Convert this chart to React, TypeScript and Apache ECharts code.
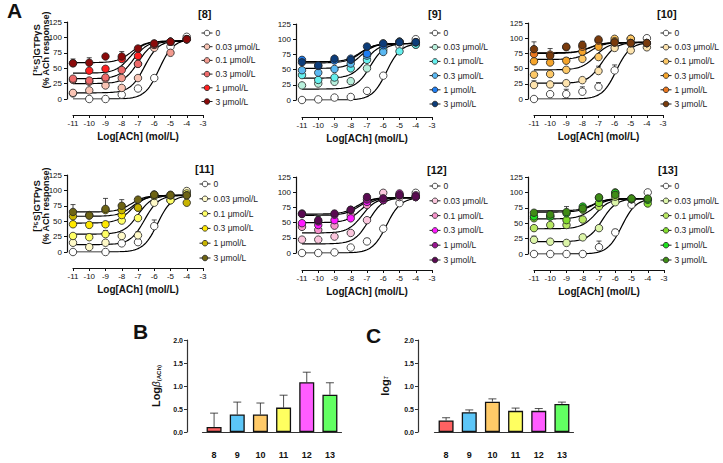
import React, { useEffect, useRef } from "react";
import * as echarts from "echarts";

// ---------- data ----------
const LOG_ACH = [-11, -10, -9, -8, -7, -6, -5, -4];
const CONC_LABELS = ["0", "0.03 μmol/L", "0.1 μmol/L", "0.3 μmol/L", "1 μmol/L", "3 μmol/L"];
const COMPOUNDS = ["8", "9", "10", "11", "12", "13"];

// % ACh response, one row per antagonist concentration
const RESP_8 = [
  [9, 0, 0, 7, 17, 34, 85, 101],
  [10, 14, 22, 18, 34, 83, 93, 97],
  [31, 28, 33, 34, 57, 88, 75, 97],
  [33, 30, 35, 47, 57, 88, 93, 97],
  [58, 46, 49, 65, 70, 90, 93, 97],
  [58, 59, 69, 69, 82, 90, 93, 97],
];
const RESP_9 = [
  [0, 1, 4, 5, 15, 40, 89, 100],
  [24, 27, 30, 31, 52, 93, 96, 91],
  [41, 33, 37, 52, 66, 83, 80, 91],
  [49, 45, 51, 60, 73, 79, 96, 95],
  [66, 56, 65, 68, 76, 90, 95, 95],
  [62, 57, 68, 66, 88, 93, 95, 95],
];
const RESP_10 = [
  [0, 8, 8, 12, 20, 47, 99, 100],
  [23, 24, 26, 31, 46, 84, 80, 85],
  [40, 41, 48, 66, 69, 99, 99, 92],
  [62, 60, 63, 78, 86, 95, 92, 92],
  [74, 73, 85, 86, 96, 93, 92, 92],
  [82, 71, 86, 89, 98, 93, 92, 92],
];
const RESP_11 = [
  [0, -4, 0, 14, 16, 42, 90, 97],
  [15, 8, 15, 26, 27, 80, 84, 99],
  [26, 24, 29, 51, 55, 91, 84, 95],
  [45, 44, 45, 60, 72, 93, 92, 92],
  [58, 60, 68, 68, 72, 93, 93, 80],
  [65, 59, 70, 75, 85, 93, 92, 92],
];
const RESP_12 = [
  [0, 0, 1, 9, 19, 40, 82, 99],
  [22, 22, 27, 33, 54, 99, 92, 92],
  [43, 38, 45, 62, 79, 87, 95, 92],
  [49, 46, 54, 57, 84, 87, 95, 92],
  [65, 52, 63, 71, 88, 87, 98, 95],
  [64, 54, 65, 71, 92, 90, 95, 93],
];
const RESP_13 = [
  [0, 0, 0, 0, 11, 35, 80, 100],
  [23, 20, 18, 27, 42, 84, 89, 88],
  [42, 47, 47, 56, 77, 93, 89, 88],
  [58, 61, 55, 72, 83, 100, 89, 82],
  [61, 61, 66, 77, 91, 99, 90, 88],
  [67, 64, 68, 74, 92, 96, 90, 90],
];

// upper SEM, per point (0 = hidden inside the symbol)
const ERR_8 = [
  [0, 0, 0, 0, 0, 0, 0, 0],
  [0, 0, 0, 0, 0, 0, 0, 0],
  [5, 5, 0, 0, 0, 0, 0, 0],
  [0, 0, 5, 0, 0, 0, 0, 0],
  [0, 0, 0, 0, 0, 0, 0, 0],
  [7, 8, 0, 8, 0, 0, 0, 0],
];
const ERR_9 = [
  [0, 0, 0, 0, 0, 0, 0, 0],
  [3, 0, 0, 0, 0, 0, 0, 0],
  [0, 4, 0, 0, 0, 0, 0, 0],
  [0, 0, 0, 0, 0, 0, 0, 0],
  [3, 0, 0, 0, 0, 0, 0, 0],
  [0, 0, 0, 0, 0, 0, 0, 0],
];
const ERR_10 = [
  [0, 0, 8, 8, 7, 9, 0, 0],
  [7, 0, 0, 0, 8, 0, 0, 0],
  [0, 0, 0, 0, 0, 0, 0, 0],
  [0, 0, 5, 0, 0, 0, 0, 0],
  [0, 0, 0, 0, 0, 0, 0, 0],
  [12, 12, 0, 6, 0, 0, 0, 0],
];
const ERR_11 = [
  [0, 0, 0, 14, 5, 10, 0, 0],
  [4, 0, 0, 0, 6, 0, 0, 0],
  [0, 0, 6, 0, 0, 0, 0, 0],
  [0, 0, 0, 0, 0, 0, 0, 0],
  [0, 0, 0, 0, 0, 0, 0, 0],
  [12, 0, 17, 10, 0, 0, 0, 0],
];
const ERR_12 = [
  [0, 4, 0, 0, 5, 0, 0, 0],
  [0, 0, 0, 0, 0, 0, 0, 0],
  [0, 0, 0, 0, 0, 0, 0, 0],
  [0, 0, 0, 0, 0, 0, 0, 0],
  [0, 8, 0, 0, 0, 0, 0, 0],
  [0, 0, 4, 0, 5, 0, 0, 0],
];
const ERR_13 = [
  [0, 0, 0, 0, 10, 5, 0, 0],
  [6, 0, 0, 0, 0, 0, 0, 0],
  [0, 0, 5, 0, 0, 0, 0, 0],
  [0, 0, 0, 0, 0, 0, 0, 0],
  [0, 0, 0, 0, 0, 0, 0, 0],
  [0, 6, 9, 0, 0, 0, 0, 0],
];

// fitted curve parameters: [bottom, top, logEC50]
const FIT_8 = [[0, 97, -5.7], [10, 95, -6.6], [25, 94, -7.0], [33, 94, -7.3], [42, 94, -7.5], [59, 94, -7.4]];
const FIT_9 = [[0, 93, -5.8], [18, 93, -6.8], [36, 93, -7.1], [52, 93, -7.4], [61, 93, -7.4], [63, 93, -7.4]];
const FIT_10 = [[0, 93, -5.9], [26, 93, -6.8], [48, 93, -7.2], [65, 93, -7.5], [75, 93, -7.6], [76, 93, -7.5]];
const FIT_11 = [[0, 92, -5.8], [12, 92, -6.6], [29, 92, -7.0], [47, 92, -7.4], [58, 92, -7.3], [65, 92, -7.4]];
const FIT_12 = [[0, 91, -5.8], [15, 91, -6.9], [33, 91, -7.3], [50, 91, -7.4], [62, 91, -7.5], [64, 91, -7.6]];
const FIT_13 = [[0, 90, -5.6], [20, 90, -6.8], [41, 90, -7.2], [57, 90, -7.4], [68, 90, -7.4], [70, 90, -7.4]];

const COLORS_8 = ["#ffffff", "#f9c4b4", "#f29a8e", "#ee6a6a", "#ff2020", "#8b0a0a"];
const COLORS_9 = ["#ffffff", "#b8f0dc", "#66f0ee", "#5ab8f2", "#1f7ef2", "#0d3d7a"];
const COLORS_10 = ["#ffffff", "#fde3ad", "#fdc866", "#f5a42a", "#e8761e", "#7a3b0c"];
const COLORS_11 = ["#ffffff", "#fffac8", "#ffff66", "#ffe800", "#c8b400", "#6e6414"];
const COLORS_12 = ["#ffffff", "#fbc6dd", "#f592ca", "#ff19ff", "#98168f", "#5a0a52"];
const COLORS_13 = ["#ffffff", "#dcf5a8", "#b8e862", "#82dc2e", "#1ee01e", "#3f8c16"];

const LOG_BETA = [0.11, 0.38, 0.38, 0.53, 1.08, 0.81];
const LOG_BETA_ERR = [0.3, 0.27, 0.25, 0.27, 0.22, 0.26];
const LOG_TAU = [0.25, 0.43, 0.66, 0.46, 0.46, 0.61];
const LOG_TAU_ERR = [0.06, 0.05, 0.06, 0.06, 0.05, 0.04];
const BAR_COLORS = ["#ff6262", "#5cc6f8", "#ffca68", "#ffff60", "#ff5cff", "#62ff62"];

// ---------- layout ----------
const FONT = "Liberation Sans, Arial, sans-serif";
const PANELS = [
  { resp: RESP_8, err: ERR_8, fit: FIT_8, colors: COLORS_8, left: 73, top: 22, width: 130, height: 77, xOff: 16, lgLeft: 201, lgTop: 28.5, lgGap: 4.7, tX: 198, tY: 15 },
  { resp: RESP_9, err: ERR_9, fit: FIT_9, colors: COLORS_9, left: 302, top: 24, width: 130, height: 76, xOff: 17, lgLeft: 429, lgTop: 28.5, lgGap: 5.2, tX: 428, tY: 15 },
  { resp: RESP_10, err: ERR_10, fit: FIT_10, colors: COLORS_10, left: 534, top: 23, width: 129, height: 76, xOff: 16, lgLeft: 660, lgTop: 28.5, lgGap: 5.2, tX: 657, tY: 15 },
  { resp: RESP_11, err: ERR_11, fit: FIT_11, colors: COLORS_11, left: 73, top: 175, width: 130, height: 77, xOff: 16, lgLeft: 199, lgTop: 179.5, lgGap: 5.8, tX: 195, tY: 170 },
  { resp: RESP_12, err: ERR_12, fit: FIT_12, colors: COLORS_12, left: 302, top: 177, width: 130, height: 76, xOff: 17, lgLeft: 429, lgTop: 181.5, lgGap: 5.8, tX: 427, tY: 171 },
  { resp: RESP_13, err: ERR_13, fit: FIT_13, colors: COLORS_13, left: 534, top: 177, width: 130, height: 77, xOff: 16, lgLeft: 660, lgTop: 181.5, lgGap: 5.8, tX: 658, tY: 171 },
];

function hill(b: number, t: number, ec: number, x: number) {
  return b + (t - b) / (1 + Math.pow(10, ec - x));
}

function errRender(cap: number) {
  return (params: any, api: any) => {
    const x = api.value(0);
    const p1 = api.coord([x, api.value(1)]);
    const p2 = api.coord([x, api.value(2)]);
    const st = { stroke: "#222", lineWidth: 0.8 };
    return {
      type: "group",
      children: [
        { type: "line", shape: { x1: p1[0], y1: p1[1], x2: p2[0], y2: p2[1] }, style: st },
        { type: "line", shape: { x1: p2[0] - cap, y1: p2[1], x2: p2[0] + cap, y2: p2[1] }, style: st },
      ],
    };
  };
}

function buildOption() {
  const grid: any[] = [];
  const xAxis: any[] = [];
  const yAxis: any[] = [];
  const series: any[] = [];
  const legend: any[] = [];
  const graphic: any[] = [];

  PANELS.forEach((p, gi) => {
    const comp = COMPOUNDS[gi];
    grid.push({ left: p.left, top: p.top, width: p.width, height: p.height });
    xAxis.push({
      gridIndex: gi, type: "value", min: -11, max: -3, interval: 1, offset: p.xOff,
      axisLine: { onZero: false, lineStyle: { color: "#111", width: 1.2 } },
      axisTick: { length: 3, lineStyle: { color: "#111" } },
      axisLabel: { fontSize: 8, color: "#111", margin: 4, fontFamily: FONT },
      splitLine: { show: false },
      name: "Log[ACh] (mol/L)", nameLocation: "middle", nameGap: 16,
      nameTextStyle: { fontSize: 10, fontWeight: "bold", color: "#111", fontFamily: FONT },
    });
    yAxis.push({
      gridIndex: gi, type: "value", min: 0, max: 125, interval: 25, offset: 6,
      axisLine: { show: true, onZero: false, lineStyle: { color: "#111", width: 1.2 } },
      axisTick: { show: true, length: 3, lineStyle: { color: "#111" } },
      axisLabel: { fontSize: 8, color: "#111", margin: 5, fontFamily: FONT },
      splitLine: { show: false },
    });
    const names: string[] = [];
    p.resp.forEach((row, si) => {
      const name = comp + "|" + CONC_LABELS[si];
      names.push(name);
      const f = p.fit[si];
      const curve: number[][] = [];
      for (let k = 0; k <= 70; k++) {
        const x = -11 + k * 0.1;
        curve.push([x, hill(f[0], f[1], f[2], x)]);
      }
      series.push({
        type: "line", name: "fit" + name, xAxisIndex: gi, yAxisIndex: gi, data: curve,
        showSymbol: false, symbol: "none", silent: true, z: 2,
        lineStyle: { color: "#000", width: 1.2 },
      });
      const errData: number[][] = [];
      row.forEach((v, k) => {
        if (p.err[si][k] > 0) errData.push([LOG_ACH[k], v, v + p.err[si][k]]);
      });
      if (errData.length) {
        series.push({
          type: "custom", name: "err" + name, xAxisIndex: gi, yAxisIndex: gi, z: 1,
          data: errData, encode: { x: 0, y: [1, 2] }, renderItem: errRender(2.5), silent: true,
        });
      }
      series.push({
        type: "line", name, xAxisIndex: gi, yAxisIndex: gi,
        data: row.map((v, k) => [LOG_ACH[k], v]),
        symbol: "circle", symbolSize: 7.5, showAllSymbol: true, z: 3,
        lineStyle: { width: 0, opacity: 0 },
        itemStyle: { color: p.colors[si], borderColor: "#222", borderWidth: 0.8 },
      });
    });
    legend.push({
      data: names, orient: "vertical", left: p.lgLeft, top: p.lgTop, padding: 0,
      itemWidth: 11, itemHeight: 7, itemGap: p.lgGap, selectedMode: false,
      formatter: (n: string) => n.split("|")[1],
      textStyle: { fontSize: 8.5, color: "#222", fontFamily: FONT, padding: [0, 0, 0, -2] },
      lineStyle: { color: "#222", width: 1, opacity: 1, type: "solid" },
      itemStyle: { borderColor: "#222", borderWidth: 0.8 },
    });
    graphic.push({
      type: "text", left: p.tX, top: p.tY - 7,
      style: { text: "[" + comp + "]", fontSize: 11, fontWeight: "bold", fill: "#111", fontFamily: FONT },
    });
  });

  // bar panels B and C
  const barPanels = [
    { vals: LOG_BETA, errs: LOG_BETA_ERR, left: 202.5, yOff: 15.5 },
    { vals: LOG_TAU, errs: LOG_TAU_ERR, left: 434.5, yOff: 16.5 },
  ];
  barPanels.forEach((b, j) => {
    const gi = 6 + j;
    grid.push({ left: b.left, top: 340, width: 139, height: 92 });
    xAxis.push({
      gridIndex: gi, type: "category", data: COMPOUNDS, offset: 13,
      axisLine: { lineStyle: { color: "#333", width: 1.2 } },
      axisTick: { alignWithLabel: true, length: 3, lineStyle: { color: "#333" } },
      axisLabel: { fontSize: 9, fontWeight: "bold", color: "#111", margin: 5, fontFamily: FONT },
    });
    yAxis.push({
      gridIndex: gi, type: "value", min: 0, max: 2, interval: 0.5, offset: b.yOff,
      axisLine: { show: true, lineStyle: { color: "#333", width: 1.2 } },
      axisTick: { show: true, length: 3, lineStyle: { color: "#333" } },
      axisLabel: { fontSize: 7, fontWeight: "bold", color: "#111", margin: 4, fontFamily: FONT, formatter: (v: number) => v.toFixed(1) },
      splitLine: { show: false },
    });
    series.push({
      type: "bar", xAxisIndex: gi, yAxisIndex: gi, barWidth: 15, z: 2,
      data: b.vals.map((v, i) => ({ value: v, itemStyle: { color: BAR_COLORS[i] } })),
      itemStyle: { borderColor: "#111", borderWidth: 1.3 },
    });
    series.push({
      type: "custom", xAxisIndex: gi, yAxisIndex: gi, z: 1,
      data: b.vals.map((v, i) => [i, v, v + b.errs[i]]),
      encode: { x: 0, y: [1, 2] }, renderItem: errRender(4), silent: true,
    });
  });

  // panel letters and axis titles
  const letter = (t: string, x: number, y: number) => ({
    type: "text", left: x, top: y,
    style: { text: t, fontSize: 21, fontWeight: "bold", fill: "#111", fontFamily: FONT },
  });
  graphic.push(letter("A", 7, 0), letter("B", 133, 321), letter("C", 366, 325));
  [50, 206].forEach((cy) => {
    graphic.push({
      type: "text", x: 36, y: cy, rotation: Math.PI / 2,
      style: { text: "[³⁵S]GTPγS", fontSize: 9.5, fontWeight: "bold", fill: "#111", fontFamily: FONT, align: "center", verticalAlign: "middle" },
    });
    graphic.push({
      type: "text", x: 45.5, y: cy, rotation: Math.PI / 2,
      style: { text: "(% ACh response)", fontSize: 9, fontWeight: "bold", fill: "#111", fontFamily: FONT, align: "center", verticalAlign: "middle" },
    });
  });
  graphic.push({
    type: "text", x: 156, y: 386, rotation: Math.PI / 2,
    style: {
      text: "{a|Log}{b|β}{c|(ACh)}", align: "center", verticalAlign: "middle", fill: "#111",
      rich: {
        a: { fontSize: 11, fontWeight: "bold", fontFamily: FONT, fill: "#111" },
        b: { fontSize: 10, fontStyle: "italic", fontFamily: FONT, fill: "#111" },
        c: { fontSize: 6, fontWeight: "bold", fontFamily: FONT, fill: "#111", verticalAlign: "bottom", padding: [4, 0, 0, 0] },
      },
    },
  });
  graphic.push({
    type: "text", x: 385, y: 386, rotation: Math.PI / 2,
    style: {
      text: "{a|log}{b|τ}", align: "center", verticalAlign: "middle", fill: "#111",
      rich: {
        a: { fontSize: 11, fontWeight: "bold", fontFamily: FONT, fill: "#111" },
        b: { fontSize: 8, fontStyle: "italic", fontFamily: FONT, fill: "#111" },
      },
    },
  });

  return { animation: false, backgroundColor: "#ffffff", grid, xAxis, yAxis, series, legend, graphic };
}

export default function App() {
  const ref = useRef<HTMLDivElement>(null);
  useEffect(() => {
    if (!ref.current) return;
    const chart = echarts.init(ref.current, undefined, { renderer: "svg" });
    chart.setOption(buildOption() as any);
    return () => chart.dispose();
  }, []);
  return <div ref={ref} style={{ width: 723, height: 463, position: "absolute", left: 0, top: 0 }} />;
}
